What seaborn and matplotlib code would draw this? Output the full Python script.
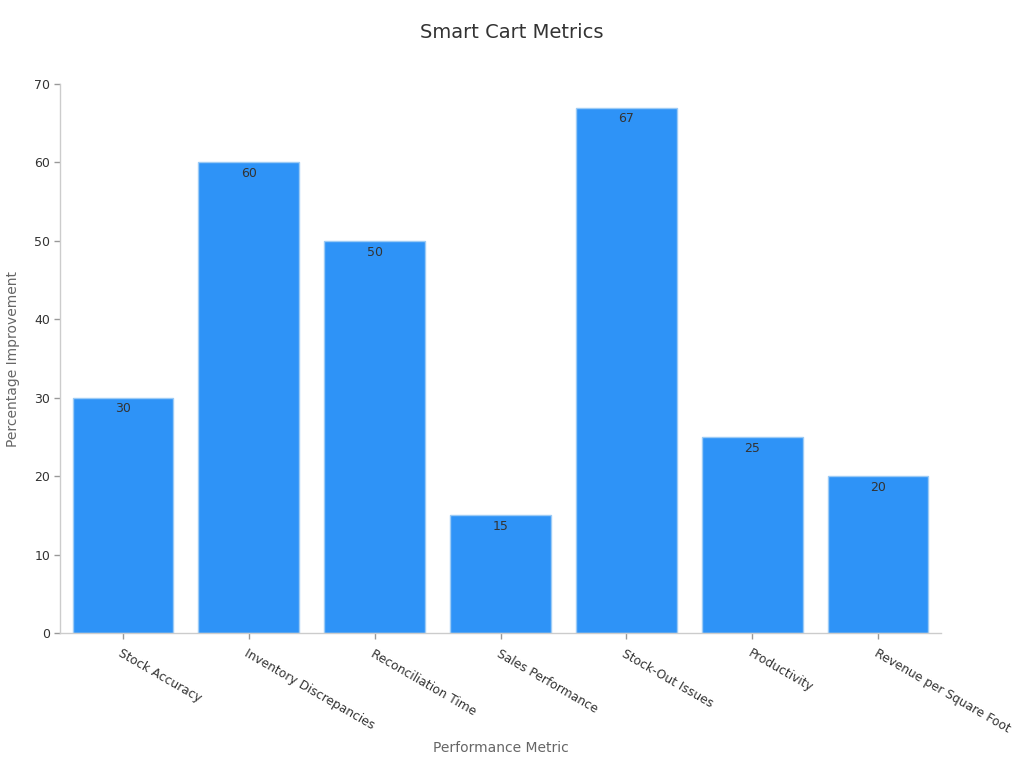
import matplotlib
matplotlib.use("Agg")
import matplotlib.pyplot as plt
import seaborn as sns
import pandas as pd

metrics = ["Stock Accuracy", "Inventory Discrepancies", "Reconciliation Time",
           "Sales Performance", "Stock-Out Issues", "Productivity",
           "Revenue per Square Foot"]
improvement = [30, 60, 50, 15, 67, 25, 20]

df = pd.DataFrame({"Performance Metric": metrics, "Percentage Improvement": improvement})

sns.set_theme(style="white")
plt.rcParams['font.family'] = ['DejaVu Sans']

fig = plt.figure(figsize=(10.24, 7.68), dpi=100)
ax = fig.add_axes([0.0586, 0.1758, 0.8604, 0.7148])

sns.barplot(data=df, x="Performance Metric", y="Percentage Improvement",
            color="#2E93F7", saturation=1, width=0.8,
            edgecolor="#9ccbf5", linewidth=1, ax=ax)

for i, v in enumerate(improvement):
    ax.text(i, v - 0.6, str(v), ha="center", va="top", fontsize=9, color="#333333")

ax.set_xlim(-0.5, 6.5)
ax.set_ylim(0, 70)
ax.set_yticks(range(0, 71, 10))
# title is centred on the figure, not on the axes
fig.suptitle("Smart Cart Metrics", fontsize=14, color="#333333", x=0.5, y=0.97)
ax.set_xlabel("Performance Metric", fontsize=10, color="#666666", labelpad=4)
ax.set_ylabel("Percentage Improvement", fontsize=10, color="#666666", labelpad=10)

ax.tick_params(axis="both", labelsize=9, colors="#333333", length=4, width=1)
ax.tick_params(axis="x", color="#999999", pad=6, labelsize=8.8)
ax.tick_params(axis="y", color="#999999", pad=3)
ax.xaxis.set_tick_params(bottom=True)
ax.yaxis.set_tick_params(left=True)
for lab in ax.get_xticklabels():
    lab.set_rotation(-30)
    lab.set_ha("left")
    lab.set_rotation_mode("anchor")

sns.despine(ax=ax)
for s in ["left", "bottom"]:
    ax.spines[s].set_color("#cccccc")
    ax.spines[s].set_linewidth(1)

fig.savefig("out.png", dpi=100)
